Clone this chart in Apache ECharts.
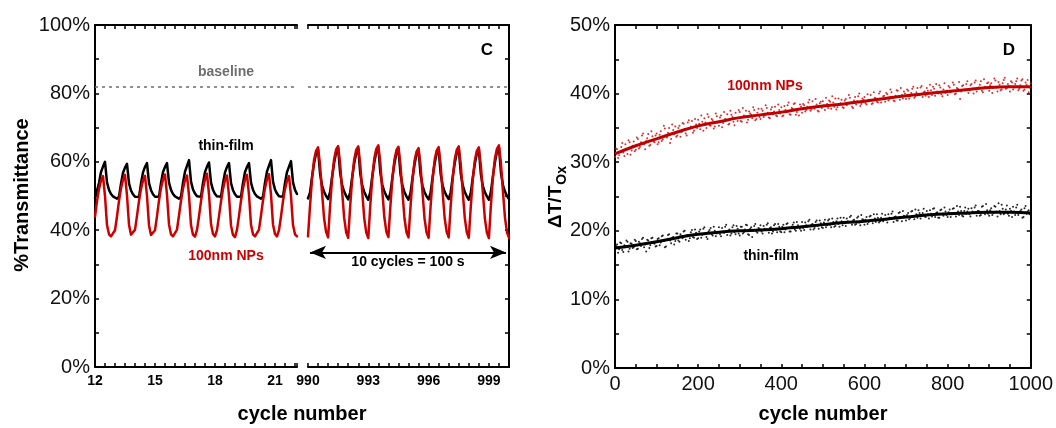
<!DOCTYPE html>
<html><head><meta charset="utf-8">
<script src="https://cdn.jsdelivr.net/npm/echarts@6/dist/echarts.min.js"></script>
<style>html,body{margin:0;padding:0;background:#fff}#c{width:1056px;height:428px}</style>
</head><body><div id="c"></div>
<script>
const FONT = 'Arial, "Liberation Sans", sans-serif';
const RED = '#cc0000';

// ---------- Panel C : transmittance vs cycle number ----------
const cycleStartA = 12, cycleEndA = 22.1;
const cycleStartB = 990, cycleEndB = 1000;
const cycleStep = 0.1;

const thinFilmA = [
 49.4,49.8,53.8,57.0,58.6,60.0,54.0,51.8,50.6,49.9,
 49.4,49.2,49.8,53.6,56.8,58.3,59.4,53.7,51.6,50.5,
 49.8,49.3,49.7,53.7,56.9,58.5,59.6,53.8,51.7,50.5,
 49.8,49.3,49.8,53.8,57.0,58.5,59.6,53.9,51.8,50.6,
 49.9,49.4,49.2,49.8,53.9,57.1,58.8,60.5,54.2,51.9,
 50.7,49.9,49.4,49.8,53.8,57.0,58.6,59.8,53.9,51.8,
 50.6,49.9,49.4,49.8,53.7,56.9,58.5,59.6,53.8,51.7,
 50.5,49.8,49.3,49.8,53.8,57.0,58.5,59.6,53.9,51.8,
 50.6,49.9,49.4,49.2,49.8,53.9,57.2,58.9,60.5,54.2,
 51.9,50.7,49.9,49.4,49.8,53.8,57.0,58.6,60.2,54.0,
 51.8,50.6];
const npA = [
 44.0,48.5,52.0,54.5,55.8,50.0,41.5,38.8,38.2,38.1,
 40.0,44.0,48.6,52.2,54.7,56.2,50.2,41.6,38.7,38.2,
 40.1,44.2,48.5,52.0,54.5,55.9,50.0,41.4,38.6,38.1,
 40.0,44.1,48.7,52.3,54.8,56.3,50.3,41.7,38.8,38.2,
 38.1,40.2,44.3,48.6,52.1,54.6,56.0,50.1,41.5,38.7,
 38.1,40.1,44.0,48.5,52.2,54.9,56.5,50.5,41.8,38.9,
 38.2,40.0,44.1,48.4,52.0,54.6,56.0,50.0,41.4,38.6,
 38.0,40.1,44.2,48.6,52.2,54.8,56.2,50.3,41.6,38.8,
 38.2,38.1,40.2,44.3,48.7,52.3,54.9,56.4,50.4,41.7,
 38.9,38.2,40.0,44.0,48.5,52.0,54.5,55.8,50.0,41.5,
 38.8,38.2];
const thinFilmB = [
 49.3,51.0,55.5,59.5,62.4,63.6,56.5,53.0,51.2,50.0,
 49.1,51.2,55.7,59.7,62.7,64.0,56.7,53.1,51.3,50.0,
 49.0,51.1,55.6,59.6,62.6,63.9,56.6,53.0,51.2,49.9,
 48.9,51.2,55.8,59.9,62.9,64.2,56.8,53.2,51.3,50.0,
 49.0,51.0,55.5,59.5,62.5,63.8,56.5,53.0,51.1,49.9,
 48.9,50.9,55.3,59.3,62.2,63.4,56.3,52.9,51.1,49.9,
 49.0,51.0,55.5,59.5,62.5,63.7,56.5,53.0,51.2,50.0,
 49.1,51.1,55.6,59.6,62.6,63.9,56.6,53.1,51.2,49.9,
 48.9,51.0,55.4,59.4,62.4,63.6,56.4,52.9,51.1,49.9,
 48.9,51.2,55.8,59.9,62.9,64.2,56.8,53.2,51.3,50.0,
 49.1];
const npB = [
 38.2,47.0,55.0,60.5,63.2,64.2,59.0,51.0,43.5,39.5,
 37.9,47.2,55.3,60.8,63.6,64.6,59.3,51.2,43.6,39.4,
 37.8,47.1,55.2,60.7,63.5,64.5,59.2,51.1,43.4,39.3,
 37.7,47.3,55.4,61.0,63.8,64.8,59.5,51.3,43.7,39.5,
 38.0,47.1,55.1,60.6,63.4,64.4,59.1,51.0,43.5,39.4,
 37.9,46.8,54.8,60.3,63.0,64.0,58.8,50.8,43.3,39.3,
 37.8,47.0,55.0,60.5,63.3,64.3,59.0,51.0,43.5,39.5,
 37.9,47.2,55.2,60.7,63.5,64.5,59.2,51.1,43.6,39.4,
 37.8,47.0,55.0,60.4,63.2,64.2,58.9,50.9,43.4,39.3,
 37.7,47.3,55.4,61.0,63.8,64.8,59.5,51.3,43.7,39.4,
 37.8];
const baselineLevel = 82;
const arrowSpan = [990.1, 999.85];
const arrowLevel = 33.5;

const xTickLabelsA = [12, 15, 18, 21];
const xTickLabelsB = [990, 993, 996, 999];
const yTickLabelsC = [0, 20, 40, 60, 80, 100];

// ---------- Panel D : dT/Tox vs cycle number ----------
const ratioStep = 5;          // points at 0, 5, 10, ... 1000
const ratioOffset2 = 2.5;     // second sample set at 2.5, 7.5, ... 997.5
const npRatio = [
 30.8,31.9,31.0,32.2,31.4,32.6,31.2,32.9,31.7,33.0,
 31.8,33.4,32.2,33.9,32.6,33.1,34.1,32.5,33.8,32.9,
 34.2,32.9,34.5,33.3,34.9,33.6,35.0,33.4,34.7,35.2,
 33.9,35.3,34.4,35.6,34.2,35.8,34.9,36.0,34.6,35.5,
 36.2,34.8,35.9,36.4,35.0,36.6,35.3,36.1,35.2,36.7,
 35.3,36.8,35.7,36.3,37.0,35.6,36.9,35.9,37.2,36.0,
 37.3,35.9,36.8,37.5,36.2,37.1,36.4,37.6,36.3,37.8,
 36.3,37.5,36.8,37.9,36.5,37.7,37.0,38.1,36.7,37.6,
 38.0,36.8,37.6,38.3,37.0,37.9,38.5,36.9,37.7,38.4,
 37.2,38.3,37.6,38.7,37.5,38.9,37.8,38.4,37.4,38.8,
 38.9,37.6,38.5,39.0,37.8,38.7,39.3,38.0,38.4,39.1,
 37.9,39.2,38.6,39.4,38.1,39.0,38.4,39.6,38.2,39.3,
 39.5,38.4,39.1,39.8,38.6,39.4,38.8,40.0,38.7,39.6,
 38.8,39.9,39.2,40.2,39.0,39.7,40.4,39.1,39.8,40.3,
 39.2,40.4,39.6,40.7,39.4,40.2,39.8,40.9,39.5,40.3,
 40.8,39.5,40.5,41.0,39.7,40.3,41.2,39.9,40.6,40.1,
 39.8,40.9,40.4,41.3,40.0,40.7,39.2,41.1,40.5,41.4,
 40.1,41.2,40.7,41.6,40.3,40.9,41.8,40.2,41.0,41.5,
 40.4,41.5,40.8,41.9,40.3,41.3,40.6,42.0,40.7,41.4,
 40.3,41.6,40.9,41.8,40.5,41.2,42.1,40.6,41.3,40.2,
 41.5];
const npRatio2 = [
 32.0,30.6,31.5,32.8,30.9,31.8,33.2,31.1,32.4,31.6,
 33.6,32.0,32.9,34.2,31.9,33.5,32.4,34.5,33.0,33.9,
 32.6,34.0,33.1,35.3,33.8,34.3,32.8,35.5,34.1,33.7,
 35.0,33.7,35.7,34.8,33.9,36.1,35.2,34.3,36.3,35.0,
 35.6,36.8,34.6,35.8,37.0,35.4,36.3,34.9,37.1,35.8,
 36.5,35.1,37.3,36.2,35.5,37.5,36.6,35.4,36.4,37.6,
 36.0,37.9,36.7,35.8,37.4,36.9,38.0,36.1,37.2,36.6,
 37.8,36.6,38.3,37.2,36.4,38.0,37.4,36.8,38.4,37.1,
 36.7,38.2,37.5,38.7,36.9,37.8,38.6,37.3,36.8,38.1,
 38.5,37.4,38.1,39.1,37.7,38.0,39.2,37.5,38.6,37.9,
 38.3,39.4,37.9,38.8,39.6,38.1,37.7,39.3,38.6,38.0,
 39.0,38.3,39.8,38.7,37.9,39.5,38.9,40.0,38.5,39.1,
 38.6,39.9,39.0,38.5,40.2,39.3,38.7,40.3,39.2,39.7,
 40.1,39.0,40.6,39.4,38.9,40.5,39.6,40.8,39.3,40.0,
 40.6,39.3,40.1,41.0,39.6,40.8,39.9,41.1,40.2,39.7,
 40.4,41.3,39.8,40.7,41.4,40.0,40.9,39.6,41.5,40.4,
 41.1,40.2,41.6,39.9,40.8,41.7,40.3,41.2,40.6,41.8,
 40.5,41.4,40.0,41.9,40.8,41.3,40.4,42.1,40.9,41.6,
 41.2,40.1,42.2,40.9,41.7,40.5,41.5,42.3,40.8,41.1,
 41.8,40.6,41.4,42.2,40.7,41.9,40.4,41.6,42.0,40.9];
const thinRatio = [
 17.1,18.0,17.3,18.2,16.9,17.8,18.4,17.4,18.1,17.6,
 18.5,17.4,18.2,18.8,17.6,17.0,18.6,17.9,19.0,18.1,
 17.8,18.9,18.3,19.3,17.6,18.7,19.5,18.2,19.1,18.5,
 19.6,18.4,19.2,19.9,18.7,19.4,18.9,20.1,19.0,19.7,
 18.9,20.2,19.4,20.5,19.1,19.9,20.4,19.3,20.0,19.6,
 20.5,19.2,19.9,20.6,19.4,20.2,19.6,20.8,19.5,20.3,
 19.3,20.6,19.8,20.9,19.5,20.3,19.1,20.7,19.9,20.4,
 20.8,19.6,20.3,20.9,19.7,20.5,19.9,21.0,19.8,20.6,
 19.8,20.9,20.2,21.1,19.9,20.6,21.2,20.0,20.8,20.3,
 21.3,20.1,20.8,21.4,20.2,21.0,20.4,21.5,20.3,21.1,
 20.4,21.6,20.8,21.7,20.5,21.3,20.7,21.8,20.6,21.4,
 21.9,20.7,21.4,22.0,20.9,21.6,21.0,22.1,20.8,21.7,
 20.9,22.0,21.3,22.2,21.1,21.8,22.4,21.2,21.9,21.4,
 22.3,21.2,21.9,22.5,21.3,22.1,21.5,22.7,21.4,22.2,
 21.5,22.6,21.9,22.9,21.7,22.4,23.0,21.8,22.6,22.1,
 22.9,21.8,22.5,23.2,22.0,22.7,21.9,23.1,22.2,22.8,
 22.0,23.1,22.4,23.3,22.1,22.8,23.5,22.2,22.9,22.5,
 23.2,22.1,22.8,23.4,22.2,22.9,22.3,23.6,22.4,23.0,
 22.2,23.3,22.6,23.5,22.1,22.9,23.8,22.4,23.1,22.5,
 23.2,22.0,22.8,23.4,22.3,22.9,21.9,23.3,22.5,23.0,
 22.4];
const thinRatio2 = [
 17.8,16.8,18.3,17.2,17.9,18.6,17.0,18.2,17.5,18.7,
 17.3,18.4,17.8,19.0,18.0,18.7,17.5,18.9,18.3,17.7,
 18.8,17.9,19.2,18.5,17.7,19.4,18.6,19.0,18.0,19.6,
 18.6,19.5,18.9,20.0,19.3,18.5,19.8,19.1,20.2,18.8,
 19.9,19.0,20.3,19.6,18.8,20.1,19.5,20.6,19.2,19.8,
 19.5,20.4,19.7,20.9,20.0,19.3,20.5,19.8,20.7,19.6,
 20.6,19.6,20.2,20.8,19.4,20.5,20.0,21.0,19.7,20.3,
 19.9,20.7,20.1,21.1,20.4,19.6,20.8,20.2,21.0,19.9,
 20.6,19.8,21.0,20.4,19.9,20.9,20.2,21.3,20.5,20.0,
 20.4,21.2,20.6,21.6,20.9,20.2,21.3,20.7,21.5,20.5,
 21.2,20.5,21.5,20.9,21.8,20.6,21.4,21.0,21.9,20.8,
 21.1,21.8,21.3,22.2,21.5,20.9,21.9,21.2,22.3,21.6,
 21.6,21.0,22.1,21.5,22.4,21.3,21.9,21.4,22.5,21.7,
 21.6,22.4,21.8,22.8,22.0,21.5,22.6,21.9,22.9,22.1,
 22.3,21.7,22.8,22.1,23.1,21.9,22.6,22.2,23.2,22.0,
 22.4,23.0,22.1,23.3,22.6,21.9,23.0,22.4,23.4,22.3,
 22.7,22.0,23.2,22.6,23.6,22.3,22.9,22.1,23.4,22.8,
 22.4,23.3,22.6,23.7,22.9,22.2,23.5,22.7,23.9,22.5,
 23.0,22.3,23.6,22.8,24.0,22.4,23.2,22.6,23.7,22.2,
 22.9,23.5,22.3,23.8,22.6,23.1,22.0,23.6,22.8,22.4];
const fitStep = 50;
const npFit = [31.2,32.4,33.4,34.4,35.3,35.9,36.5,36.9,37.3,37.8,38.2,38.5,38.9,39.3,39.7,40.0,40.3,40.6,40.9,41.0,41.0];
const thinFit = [17.5,17.9,18.4,19.0,19.5,19.8,20.0,20.1,20.3,20.6,20.9,21.2,21.4,21.7,22.0,22.3,22.5,22.6,22.7,22.7,22.6];

const xTickLabelsD = [0, 200, 400, 600, 800, 1000];
const yTickLabelsD = [0, 10, 20, 30, 40, 50];

// ---------- helpers ----------
const pairs = (start, step, arr) => arr.map((v, i) => [+(start + i * step).toFixed(3), v]);
const pick = (list, suffix) => v => {
  const t = list.find(t => Math.abs(t - v) < 1e-6);
  return t === undefined ? '' : (t + (suffix || ''));
};
function axis(extra) {
  return Object.assign({
    type: 'value',
    axisLine: { show: true, onZero: false, lineStyle: { color: '#000', width: 2 } },
    axisTick: { show: true, inside: true, length: 4, lineStyle: { color: '#000', width: 1.5 } },
    splitLine: { show: false },
    axisLabel: { show: false }
  }, extra);
}
const labC_x = { show: true, color: '#000', fontFamily: FONT, fontSize: 14, fontWeight: 'bold', margin: 7 };
const labBig = { show: true, color: '#111', fontFamily: FONT, fontSize: 20, margin: 5 };

const chart = echarts.init(document.getElementById('c'), null, { renderer: 'canvas' });

const txt = (x, y, text, font, fill, rot) => ({
  type: 'text', x, y, rotation: rot || 0, silent: true,
  style: { text, font, fill: fill || '#000', align: 'center', verticalAlign: 'middle' }
});
const waveLine = color => ({ color, width: 2.5, join: 'round', cap: 'round' });

chart.setOption({
  animation: false,
  backgroundColor: '#fff',
  grid: [
    { left: 95, top: 25, width: 202, height: 342 },
    { left: 308, top: 25, width: 201, height: 342 },
    { left: 615, top: 25, width: 416, height: 343 }
  ],
  xAxis: [
    axis({ gridIndex: 0, position: 'bottom', min: cycleStartA, max: cycleEndA, interval: 0.5,
           axisLabel: Object.assign({}, labC_x, { formatter: pick(xTickLabelsA) }) }),
    axis({ gridIndex: 0, position: 'top', min: cycleStartA, max: cycleEndA, interval: 0.5 }),
    axis({ gridIndex: 1, position: 'bottom', min: cycleStartB, max: cycleEndB, interval: 0.5,
           axisLabel: Object.assign({}, labC_x, { formatter: pick(xTickLabelsB) }) }),
    axis({ gridIndex: 1, position: 'top', min: cycleStartB, max: cycleEndB, interval: 0.5 }),
    axis({ gridIndex: 2, position: 'bottom', min: 0, max: 1000, interval: 50,
           axisLabel: Object.assign({}, labBig, { margin: 6, formatter: pick(xTickLabelsD) }) }),
    axis({ gridIndex: 2, position: 'top', min: 0, max: 1000, interval: 50 })
  ],
  yAxis: [
    axis({ gridIndex: 0, position: 'left', min: 0, max: 100, interval: 10,
           axisLabel: Object.assign({}, labBig, { formatter: pick(yTickLabelsC, '%') }) }),
    axis({ gridIndex: 1, position: 'right', min: 0, max: 100, interval: 10 }),
    axis({ gridIndex: 2, position: 'left', min: 0, max: 50, interval: 5,
           axisLabel: Object.assign({}, labBig, { formatter: pick(yTickLabelsD, '%') }) }),
    axis({ gridIndex: 2, position: 'right', min: 0, max: 50, interval: 5 })
  ],
  series: [
    { type: 'line', xAxisIndex: 0, yAxisIndex: 0, data: pairs(cycleStartA, cycleStep, thinFilmA),
      showSymbol: false, lineStyle: waveLine('#000'), itemStyle: { color: '#000' },
      markLine: { silent: true, symbol: 'none', label: { show: false },
        lineStyle: { type: [3, 4], color: '#6e6e6e', width: 1.5 }, data: [{ yAxis: baselineLevel }] } },
    { type: 'line', xAxisIndex: 0, yAxisIndex: 0, data: pairs(cycleStartA, cycleStep, npA),
      showSymbol: false, lineStyle: waveLine(RED), itemStyle: { color: RED } },
    { type: 'line', xAxisIndex: 2, yAxisIndex: 1, data: pairs(cycleStartB, cycleStep, thinFilmB),
      showSymbol: false, lineStyle: waveLine('#000'), itemStyle: { color: '#000' },
      markLine: { silent: true, symbol: 'none', label: { show: false },
        lineStyle: { type: [3, 4], color: '#6e6e6e', width: 1.5 }, data: [{ yAxis: baselineLevel }] } },
    { type: 'line', xAxisIndex: 2, yAxisIndex: 1, data: pairs(cycleStartB, cycleStep, npB),
      showSymbol: false, lineStyle: waveLine(RED), itemStyle: { color: RED },
      markLine: { silent: true, symbol: ['arrow', 'arrow'], symbolSize: [10, 16],
        lineStyle: { type: 'solid', color: '#000', width: 2 },
        label: { show: true, position: 'insideMiddleBottom', formatter: '10 cycles = 100 s', distance: 3,
                 color: '#000', fontFamily: FONT, fontSize: 14, fontWeight: 'bold' },
        data: [[{ coord: [arrowSpan[0], arrowLevel] }, { coord: [arrowSpan[1], arrowLevel] }]] } },
    { type: 'scatter', xAxisIndex: 4, yAxisIndex: 2, data: pairs(0, ratioStep, thinRatio),
      symbolSize: 2, itemStyle: { color: '#111', opacity: 0.9 } },
    { type: 'scatter', xAxisIndex: 4, yAxisIndex: 2, data: pairs(ratioOffset2, ratioStep, thinRatio2),
      symbolSize: 2, itemStyle: { color: '#111', opacity: 0.9 } },
    { type: 'scatter', xAxisIndex: 4, yAxisIndex: 2, data: pairs(0, ratioStep, npRatio),
      symbolSize: 2, itemStyle: { color: '#d41a1a', opacity: 0.9 } },
    { type: 'scatter', xAxisIndex: 4, yAxisIndex: 2, data: pairs(ratioOffset2, ratioStep, npRatio2),
      symbolSize: 2, itemStyle: { color: '#d41a1a', opacity: 0.9 } },
    { type: 'line', xAxisIndex: 4, yAxisIndex: 2, data: pairs(0, fitStep, thinFit), smooth: true,
      showSymbol: false, lineStyle: { color: '#000', width: 3 } },
    { type: 'line', xAxisIndex: 4, yAxisIndex: 2, data: pairs(0, fitStep, npFit), smooth: true,
      showSymbol: false, lineStyle: { color: '#c00000', width: 3 } }
  ],
  graphic: [
    txt(226, 72, 'baseline', 'bold 14px ' + FONT, '#6e6e6e'),
    txt(226, 146, 'thin-film', 'bold 14px ' + FONT, '#000'),
    txt(226, 256, '100nm NPs', 'bold 14px ' + FONT, RED),
    txt(487, 50, 'C', 'bold 17px ' + FONT, '#000'),
    txt(1009, 50, 'D', 'bold 17px ' + FONT, '#000'),
    txt(765, 86, '100nm NPs', 'bold 14px ' + FONT, RED),
    txt(771, 256, 'thin-film', 'bold 14px ' + FONT, '#000'),
    txt(302, 414, 'cycle number', 'bold 20px ' + FONT, '#000'),
    txt(823, 414, 'cycle number', 'bold 20px ' + FONT, '#000'),
    txt(22, 195, '%Transmittance', 'bold 20px ' + FONT, '#000', Math.PI / 2),
    { type: 'text', x: 556, y: 197, rotation: Math.PI / 2, silent: true,
      style: { text: '{a|ΔT/T}{b|Ox}', align: 'center', verticalAlign: 'middle', fill: '#000',
        rich: {
          a: { fontFamily: FONT, fontSize: 19, fontWeight: 'bold', lineHeight: 26, verticalAlign: 'middle' },
          b: { fontFamily: FONT, fontSize: 14, fontWeight: 'bold', lineHeight: 26, verticalAlign: 'bottom', padding: [0, 0, 0, 1] }
        } } }
  ]
});
</script></body></html>
